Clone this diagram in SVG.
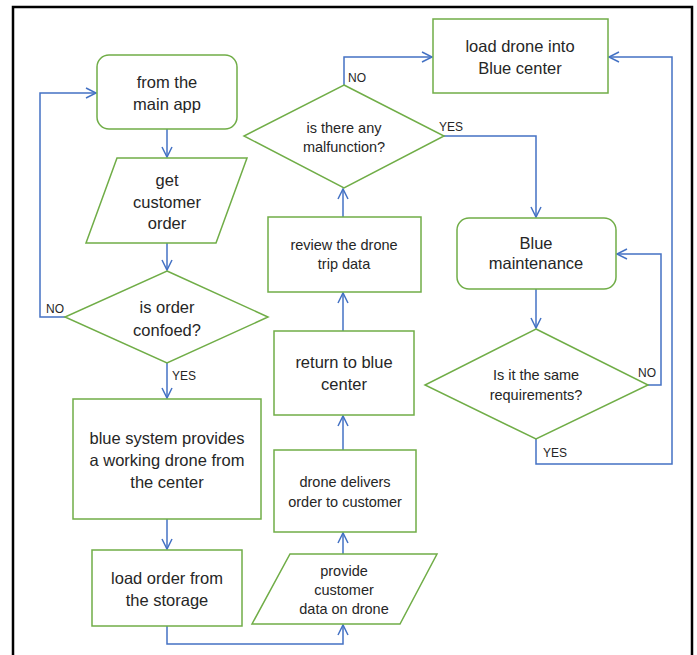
<svg xmlns="http://www.w3.org/2000/svg" width="697" height="655" viewBox="0 0 697 655">
<style>
.n{fill:#fff;stroke:#70AD47;stroke-width:1.5}
.c{fill:none;stroke:#4472C4;stroke-width:1.5}
text{font-family:"Liberation Sans",Arial,sans-serif;fill:#262626;text-anchor:middle;dominant-baseline:central}
.b{font-size:16.5px}
.s{font-size:14.5px}
.l{font-size:12px;text-anchor:start}
</style>
<defs>
<marker id="a" markerUnits="userSpaceOnUse" markerWidth="14" markerHeight="14" refX="0" refY="0" viewBox="-11 -7 14 14" orient="auto">
<path d="M-10,-5 L0,0 L-10,5" fill="none" stroke="#4472C4" stroke-width="1.5"/>
</marker>
</defs>
<rect x="0" y="0" width="697" height="655" fill="#fff"/>
<rect x="13" y="7" width="679" height="660" fill="none" stroke="#000" stroke-width="2.5"/>
<g id="connectors">
<path class="c" d="M167,129 V157" marker-end="url(#a)"/>
<path class="c" d="M167,243 V270" marker-end="url(#a)"/>
<path class="c" d="M65,317 H40 V93 H96" marker-end="url(#a)"/>
<path class="c" d="M167,363 V398" marker-end="url(#a)"/>
<path class="c" d="M167,519 V549" marker-end="url(#a)"/>
<path class="c" d="M167,626 V644 H343 V625" marker-end="url(#a)"/>
<path class="c" d="M343,554 V533" marker-end="url(#a)"/>
<path class="c" d="M343,450 V416" marker-end="url(#a)"/>
<path class="c" d="M343,331 V293" marker-end="url(#a)"/>
<path class="c" d="M343,217 V189" marker-end="url(#a)"/>
<path class="c" d="M344,85 V57 H432" marker-end="url(#a)"/>
<path class="c" d="M444,136 H536 V217" marker-end="url(#a)"/>
<path class="c" d="M536,289 V328" marker-end="url(#a)"/>
<path class="c" d="M648,385 H661 V254 H617" marker-end="url(#a)"/>
<path class="c" d="M536,439 V464 H672 V57 H609" marker-end="url(#a)"/>
<text class="l" x="46" y="309">NO</text>
<text class="l" x="172" y="376">YES</text>
<text class="l" x="348" y="78">NO</text>
<text class="l" x="439" y="127">YES</text>
<text class="l" x="638" y="373">NO</text>
<text class="l" x="543" y="453">YES</text>
</g>
<g id="n1"><rect class="n" x="97" y="55" width="140" height="74" rx="12"/><text class="b" x="167" y="82">from the</text><text class="b" x="167" y="104">main app</text></g>
<g id="n2"><polygon class="n" points="117,158 247,158 216,243 86,243"/><text class="b" x="167" y="180">get</text><text class="b" x="167" y="202">customer</text><text class="b" x="167" y="223">order</text></g>
<g id="n3"><polygon class="n" points="167,271 268,317 167,363 65,317"/><text class="b" x="167" y="307">is order</text><text class="b" x="167" y="330">confoed?</text></g>
<g id="n4"><rect class="n" x="73" y="399" width="188" height="120"/><text class="b" x="167" y="438">blue system provides</text><text class="b" x="167" y="460">a working drone from</text><text class="b" x="167" y="482">the center</text></g>
<g id="n5"><rect class="n" x="92" y="550" width="150" height="76"/><text class="b" x="167" y="578">load order from</text><text class="b" x="167" y="600">the storage</text></g>
<g id="n6"><polygon class="n" points="290,554 437,554 400,624 252,624"/><text class="s" x="344" y="571">provide</text><text class="s" x="344" y="590">customer</text><text class="s" x="344" y="609">data on drone</text></g>
<g id="n7"><rect class="n" x="274" y="450" width="142" height="82"/><text class="s" x="345" y="482">drone delivers</text><text class="s" x="345" y="502">order to customer</text></g>
<g id="n8"><rect class="n" x="274" y="331" width="140" height="84"/><text class="b" x="344" y="362">return to blue</text><text class="b" x="344" y="384">center</text></g>
<g id="n9"><rect class="n" x="268" y="217" width="153" height="75"/><text class="s" x="344" y="245">review the drone</text><text class="s" x="344" y="264">trip data</text></g>
<g id="n10"><polygon class="n" points="344,85 444,136 344,188 244,136"/><text class="s" x="344" y="128">is there any</text><text class="s" x="344" y="147">malfunction?</text></g>
<g id="n11"><rect class="n" x="433" y="19" width="175" height="74"/><text class="b" x="520" y="46">load drone into</text><text class="b" x="520" y="68">Blue center</text></g>
<g id="n12"><rect class="n" x="457" y="218" width="159" height="71" rx="12"/><text class="b" x="536" y="243">Blue</text><text class="b" x="536" y="263">maintenance</text></g>
<g id="n13"><polygon class="n" points="536,329 648,385 536,439 425,385"/><text class="s" x="536" y="375">Is it the same</text><text class="s" x="536" y="395">requirements?</text></g>
</svg>
